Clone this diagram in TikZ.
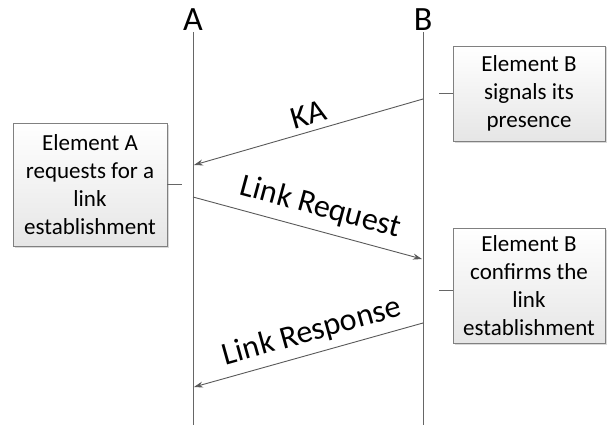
\documentclass[tikz,border=0pt]{standalone}
\usepackage{fontspec}
\setmainfont{Carlito}
\usetikzlibrary{arrows.meta,shadows}

\tikzset{
  lifeline/.style={draw=black!60, line width=1pt},
  lifelabel/.style={font=\fontsize{34}{40}\selectfont, anchor=base, inner sep=0pt},
  msg/.style={draw=black!65, line width=0.9pt, -{Stealth[length=9pt,width=6pt]}},
  msglabel/.style={font=\fontsize{32}{36}\selectfont, sloped, inner sep=1pt},
  notebox/.style={draw=black!50, line width=0.9pt, shading=axis, top color=white,
    bottom color=black!10, align=center, font=\fontsize{23}{28}\selectfont,
    inner sep=0pt, drop shadow={shadow xshift=1.5pt, shadow yshift=-1.5pt, fill=black!25, opacity=0.6}},
  tick/.style={draw=black!60, line width=0.9pt}
}

\begin{document}
\begin{tikzpicture}[x=1pt, y=-1pt]
  \useasboundingbox (0,0) rectangle (607,425);

  % lifelines
  \coordinate (Atop) at (193,32);
  \coordinate (Abot) at (193,425);
  \coordinate (Btop) at (423,32);
  \coordinate (Bbot) at (423,425);
  \draw[lifeline] (Atop) -- (Abot);
  \draw[lifeline] (Btop) -- (Bbot);
  \node[lifelabel] (labA) at (193,31) {A};
  \node[lifelabel] (labB) at (423,31) {B};

  % message end points
  \coordinate (ka1) at (423,99);
  \coordinate (ka2) at (194,165);
  \coordinate (rq1) at (193,197);
  \coordinate (rq2) at (422,259);
  \coordinate (rs1) at (423,323);
  \coordinate (rs2) at (194,387);

  \draw[msg] (ka1) -- node[msglabel, above=5pt, pos=0.48] (lka) {KA} (ka2);
  \draw[msg] (rq1) -- node[msglabel, above=8pt, pos=0.53] (lrq) {Link Request} (rq2);
  \draw[msg] (rs1) -- node[msglabel, above=6pt, pos=0.46] (lrs) {Link Response} (rs2);

  % notes
  \node[notebox, minimum width=154pt, minimum height=123pt] (nA) at (90,184.5)
    {Element A\\requests for a\\link\\establishment};
  \node[notebox, minimum width=152pt, minimum height=95pt] (nB1) at (529,93.5)
    {Element B\\signals its\\presence};
  \node[notebox, minimum width=152pt, minimum height=115pt] (nB2) at (529,285.5)
    {Element B\\confirms the\\link\\establishment};

  % note ticks toward the lifelines
  \coordinate (tA) at (182,184);
  \coordinate (tB1) at (439,93);
  \coordinate (tB2) at (439,290);
  \draw[tick] (nA.east |- tA) -- (tA);
  \draw[tick] (nB1.west |- tB1) -- (tB1);
  \draw[tick] (nB2.west |- tB2) -- (tB2);
\end{tikzpicture}
\end{document}
